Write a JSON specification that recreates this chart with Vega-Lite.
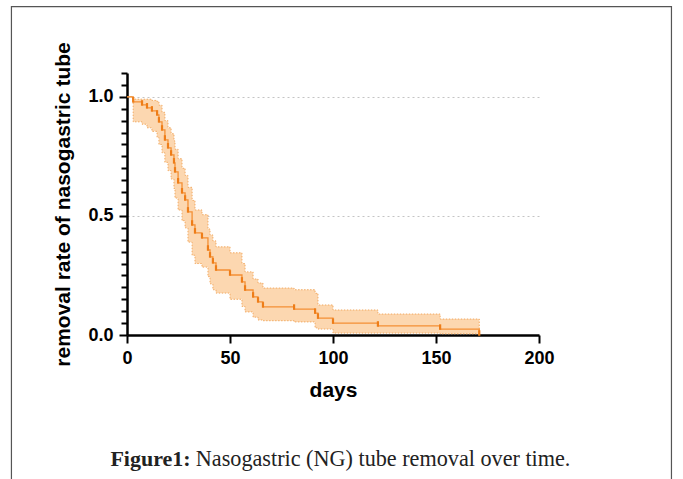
{
  "$schema": "https://vega.github.io/schema/vega-lite/v6.json",
  "width": 412,
  "height": 262,
  "autosize": {"type": "none"},
  "padding": {"left": 127, "top": 73, "right": 144, "bottom": 144},
  "background": "white",
  "config": {"view": {"stroke": null}},
  "resolve": {"axis": {"y": "independent"}},
  "data": {
    "values": [
      {"d": 0, "s": 1.0, "lo": 1.0, "hi": 1.0},
      {"d": 3, "s": 0.979, "lo": 0.895, "hi": 0.99},
      {"d": 7.3, "s": 0.966, "lo": 0.885, "hi": 0.99},
      {"d": 9.7, "s": 0.954, "lo": 0.87, "hi": 0.99},
      {"d": 12.1, "s": 0.941, "lo": 0.855, "hi": 0.985},
      {"d": 14.6, "s": 0.924, "lo": 0.83, "hi": 0.98},
      {"d": 15.5, "s": 0.895, "lo": 0.8, "hi": 0.965},
      {"d": 17.0, "s": 0.861, "lo": 0.765, "hi": 0.935},
      {"d": 18.4, "s": 0.819, "lo": 0.725, "hi": 0.9},
      {"d": 19.9, "s": 0.786, "lo": 0.69, "hi": 0.87},
      {"d": 21.4, "s": 0.756, "lo": 0.655, "hi": 0.845},
      {"d": 22.8, "s": 0.723, "lo": 0.615, "hi": 0.815},
      {"d": 23.3, "s": 0.685, "lo": 0.575, "hi": 0.78},
      {"d": 24.8, "s": 0.639, "lo": 0.525, "hi": 0.74},
      {"d": 26.7, "s": 0.597, "lo": 0.48, "hi": 0.7},
      {"d": 28.2, "s": 0.567, "lo": 0.45, "hi": 0.67},
      {"d": 29.6, "s": 0.517, "lo": 0.39, "hi": 0.62},
      {"d": 31.6, "s": 0.462, "lo": 0.335, "hi": 0.565},
      {"d": 33.0, "s": 0.429, "lo": 0.3, "hi": 0.525},
      {"d": 36.4, "s": 0.408, "lo": 0.285, "hi": 0.505},
      {"d": 39.3, "s": 0.357, "lo": 0.245, "hi": 0.445},
      {"d": 40.3, "s": 0.328, "lo": 0.215, "hi": 0.42},
      {"d": 41.7, "s": 0.303, "lo": 0.19, "hi": 0.395},
      {"d": 43.2, "s": 0.273, "lo": 0.176, "hi": 0.37},
      {"d": 50.0, "s": 0.252, "lo": 0.15, "hi": 0.345},
      {"d": 55.8, "s": 0.223, "lo": 0.12, "hi": 0.3},
      {"d": 57.3, "s": 0.189, "lo": 0.097, "hi": 0.265},
      {"d": 61.2, "s": 0.16, "lo": 0.075, "hi": 0.235},
      {"d": 63.6, "s": 0.139, "lo": 0.063, "hi": 0.218},
      {"d": 66.0, "s": 0.118, "lo": 0.06, "hi": 0.197},
      {"d": 81.1, "s": 0.109, "lo": 0.055, "hi": 0.19},
      {"d": 91.3, "s": 0.092, "lo": 0.03, "hi": 0.175},
      {"d": 92.7, "s": 0.071, "lo": 0.025, "hi": 0.126},
      {"d": 100, "s": 0.05, "lo": 0.008, "hi": 0.105},
      {"d": 121.8, "s": 0.038, "lo": 0.008, "hi": 0.088},
      {"d": 152, "s": 0.025, "lo": 0.005, "hi": 0.067},
      {"d": 171, "s": 0.0, "lo": 0.005, "hi": 0.067}
    ]
  },
  "layer": [
    {
      "data": {"values": [{}]},
      "mark": {"type": "rect", "fillOpacity": 0, "stroke": "#555555", "strokeWidth": 1.2},
      "encoding": {
        "x": {"datum": -56.1, "type": "quantitative", "scale": {"domain": [0, 200]}},
        "x2": {"datum": 264.3},
        "y": {"datum": 1.379, "type": "quantitative", "scale": {"domain": [0, 1.1]}, "axis": null},
        "y2": {"datum": -0.75}
      }
    },
    {
      "mark": {"type": "area", "interpolate": "step-after", "fill": "#fcd7b0", "fillOpacity": 1, "stroke": "#f2aa62", "strokeWidth": 1, "strokeDash": [1.5, 1.5]},
      "encoding": {
        "x": {"field": "d", "type": "quantitative", "scale": {"domain": [0, 200]}},
        "y": {"field": "lo", "type": "quantitative", "scale": {"domain": [0, 1.1]}, "axis": null},
        "y2": {"field": "hi"}
      }
    },
    {
      "mark": {"type": "line", "interpolate": "step-after", "color": "#f39035", "strokeWidth": 1.3},
      "encoding": {
        "x": {
          "field": "d", "type": "quantitative",
          "scale": {"domain": [0, 200], "nice": false},
          "axis": {
            "values": [0, 50, 100, 150, 200],
            "title": "days",
            "titleFont": "Liberation Sans", "titleFontSize": 21, "titleFontWeight": "bold", "titleColor": "#000000", "titlePadding": 12,
            "labelFont": "Liberation Sans", "labelFontSize": 18, "labelFontWeight": "bold", "labelColor": "#000000", "labelPadding": 6,
            "labelFlush": false, "labelOverlap": false,
            "tickSize": 8, "tickWidth": 2, "tickColor": "#000000",
            "domainColor": "#000000", "domainWidth": 2.5, "grid": false
          }
        },
        "y": {
          "field": "s", "type": "quantitative",
          "scale": {"domain": [0, 1.1], "nice": false},
          "axis": {
            "orient": "left",
            "values": [0, 0.5, 1],
            "format": ".1f",
            "title": "removal rate of nasogastric tube",
            "titleFont": "Liberation Sans", "titleFontSize": 21, "titleFontWeight": "bold", "titleColor": "#000000", "titlePadding": 14,
            "labelFont": "Liberation Sans", "labelFontSize": 18, "labelFontWeight": "bold", "labelColor": "#000000", "labelPadding": 6,
            "labelOverlap": false, "labelFlush": false,
            "tickSize": 8, "tickWidth": 2, "tickColor": "#000000",
            "domainColor": "#000000", "domainWidth": 2.5,
            "grid": true, "gridColor": "#c4c4c4", "gridDash": [2, 3], "gridWidth": 1
          }
        }
      }
    },
    {
      "transform": [{"filter": "datum.d > 0"}],
      "mark": {"type": "point", "shape": "M-0.4,-1L0.4,-1L0.4,1L-0.4,1Z", "size": 30, "filled": true, "color": "#ee7d18", "opacity": 1, "yOffset": -2},
      "encoding": {
        "x": {"field": "d", "type": "quantitative"},
        "y": {
          "field": "s", "type": "quantitative",
          "axis": {
            "orient": "left",
            "values": [0.05, 0.1, 0.15, 0.2, 0.25, 0.3, 0.35, 0.4, 0.45, 0.55, 0.6, 0.65, 0.7, 0.75, 0.8, 0.85, 0.9, 0.95, 1.05, 1.1],
            "labels": false, "title": null, "domain": false, "grid": false,
            "ticks": true, "tickSize": 6, "tickWidth": 2, "tickColor": "#000000", "tickOpacity": 1
          }
        }
      }
    },
    {
      "data": {"values": [{}]},
      "mark": {"type": "text", "text": "Figure1:", "font": "Liberation Serif", "fontSize": 22, "fontWeight": "bold", "align": "right", "baseline": "alphabetic", "color": "#222222"},
      "encoding": {
        "x": {"datum": 30.9, "type": "quantitative"},
        "y": {"datum": -0.55, "type": "quantitative", "axis": null}
      }
    },
    {
      "data": {"values": [{}]},
      "mark": {"type": "text", "text": "Nasogastric (NG) tube removal over time.", "font": "Liberation Serif", "fontSize": 22.2, "align": "left", "baseline": "alphabetic", "color": "#222222"},
      "encoding": {
        "x": {"datum": 33.4, "type": "quantitative"},
        "y": {"datum": -0.55, "type": "quantitative", "axis": null}
      }
    }
  ]
}
